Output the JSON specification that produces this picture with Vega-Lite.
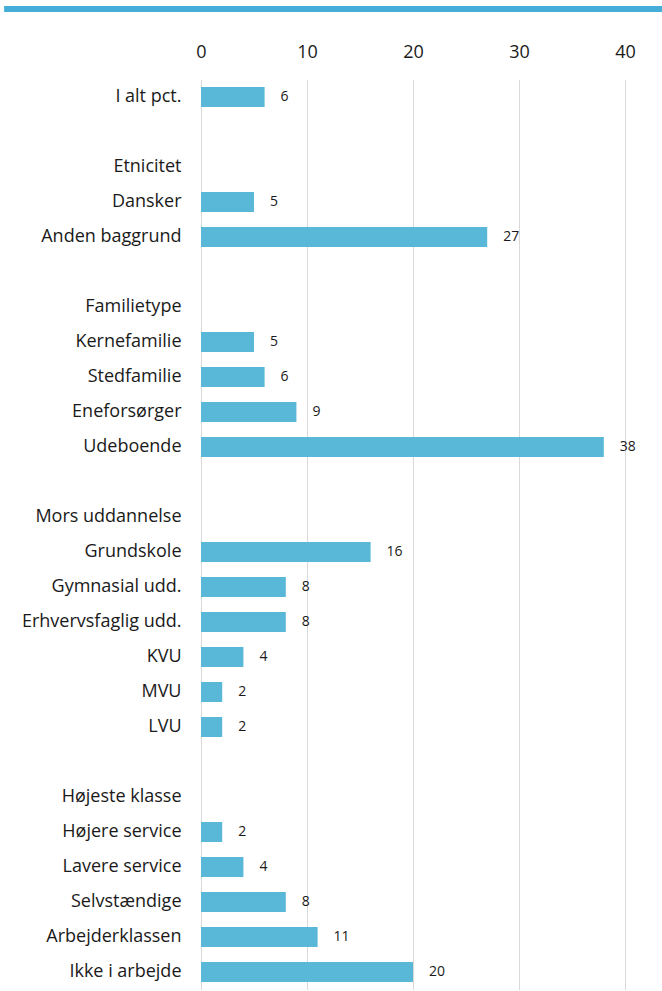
{
  "$schema": "https://vega.github.io/schema/vega-lite/v6.json",
  "autosize": "none",
  "width": 424,
  "height": 910,
  "padding": {"left": 201, "top": 79.5, "right": 37, "bottom": 1.5},
  "background": "white",
  "config": {
    "view": {"stroke": null},
    "font": "Open Sans"
  },
  "data": {
    "values": [
      {"kategori": "I alt pct.", "pct": 6},
      {"kategori": "Dansker", "pct": 5},
      {"kategori": "Anden baggrund", "pct": 27},
      {"kategori": "Kernefamilie", "pct": 5},
      {"kategori": "Stedfamilie", "pct": 6},
      {"kategori": "Eneforsørger", "pct": 9},
      {"kategori": "Udeboende", "pct": 38},
      {"kategori": "Grundskole", "pct": 16},
      {"kategori": "Gymnasial udd.", "pct": 8},
      {"kategori": "Erhvervsfaglig udd.", "pct": 8},
      {"kategori": "KVU", "pct": 4},
      {"kategori": "MVU", "pct": 2},
      {"kategori": "LVU", "pct": 2},
      {"kategori": "Højere service", "pct": 2},
      {"kategori": "Lavere service", "pct": 4},
      {"kategori": "Selvstændige", "pct": 8},
      {"kategori": "Arbejderklassen", "pct": 11},
      {"kategori": "Ikke i arbejde", "pct": 20}
    ]
  },
  "encoding": {
    "y": {
      "field": "kategori",
      "type": "nominal",
      "scale": {
        "domain": ["I alt pct.", "blank1", "Etnicitet", "Dansker", "Anden baggrund", "blank2", "Familietype", "Kernefamilie", "Stedfamilie", "Eneforsørger", "Udeboende", "blank3", "Mors uddannelse", "Grundskole", "Gymnasial udd.", "Erhvervsfaglig udd.", "KVU", "MVU", "LVU", "blank4", "Højeste klasse", "Højere service", "Lavere service", "Selvstændige", "Arbejderklassen", "Ikke i arbejde"],
        "paddingInner": 0.43,
        "paddingOuter": 0.215
      },
      "axis": {
        "title": null,
        "domain": false,
        "ticks": false,
        "labelPadding": 20,
        "labelFontSize": 18,
        "labelColor": "#1a1a1a",
        "labelLimit": 300,
        "labelExpr": "slice(datum.value,0,5)=='blank' ? '' : datum.value"
      }
    },
    "x": {
      "field": "pct",
      "type": "quantitative",
      "scale": {"domain": [0, 40], "nice": false},
      "axis": {
        "orient": "top",
        "title": null,
        "values": [0, 10, 20, 30, 40],
        "domain": false,
        "ticks": false,
        "grid": true,
        "gridColor": "#d9d9d9",
        "gridWidth": 1,
        "labelFlush": false,
        "labelPadding": 18,
        "labelFontSize": 18,
        "labelColor": "#1a1a1a"
      }
    }
  },
  "layer": [
    {
      "mark": {"type": "bar", "color": "#59b7d8"}
    },
    {
      "mark": {"type": "text", "align": "left", "dx": 16, "fontSize": 14, "color": "#1a1a1a"},
      "encoding": {"text": {"field": "pct", "type": "quantitative"}}
    },
    {
      "mark": {"type": "rule", "color": "#44aed8", "strokeWidth": 6, "clip": false},
      "encoding": {
        "x": {"datum": -18.5},
        "x2": {"datum": 43.6},
        "y": {"value": -70.5}
      }
    }
  ]
}
